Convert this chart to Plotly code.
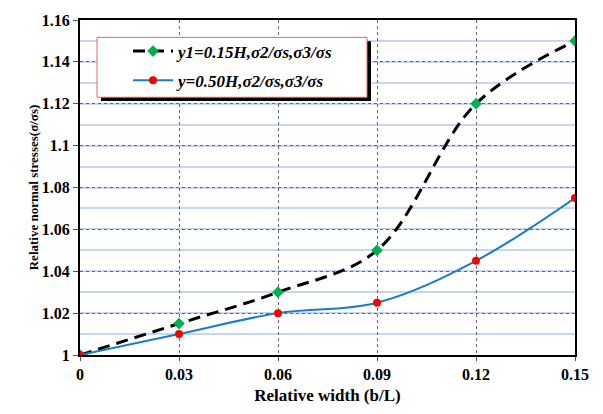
import plotly.graph_objects as go

# Relative width b/L and relative normal stresses
width_ratio = [0, 0.03, 0.06, 0.09, 0.12, 0.15]
stress_y1_015H = [1.0, 1.015, 1.03, 1.05, 1.12, 1.15]
stress_y_050H = [1.0, 1.01, 1.02, 1.025, 1.045, 1.075]

x_tickvals = [0, 0.03, 0.06, 0.09, 0.12, 0.15]
x_ticktext = ["0", "0.03", "0.06", "0.09", "0.12", "0.15"]
y_tickvals = [1.0, 1.02, 1.04, 1.06, 1.08, 1.10, 1.12, 1.14, 1.16]
y_ticktext = ["1", "1.02", "1.04", "1.06", "1.08", "1.1", "1.12", "1.14", "1.16"]

name_1 = "y1=0.15H,σ2/σs,σ3/σs"
name_2 = "y=0.50H,σ2/σs,σ3/σs"

serif = "Liberation Serif, Times New Roman, serif"

fig = go.Figure()

fig.add_trace(go.Scatter(
    x=width_ratio, y=stress_y1_015H, name=name_1, mode="lines+markers",
    line=dict(color="black", width=3, dash="12px,7px", shape="spline", smoothing=1.0),
    marker=dict(symbol="diamond", size=9, color="#00b050"),
    legendgroup="a",
))
fig.add_trace(go.Scatter(
    x=width_ratio, y=stress_y_050H, name=name_2, mode="lines+markers",
    line=dict(color="#1a7acb", width=2, shape="spline", smoothing=1.0),
    marker=dict(symbol="circle", size=8, color="#ff0000"),
    legendgroup="b",
))

W, H = 603, 414
ml, mr, mt, mb = 80, 28, 15, 52
pw, ph = W - ml - mr, H - mt - mb


def px_x(p):
    return (p - ml) / pw


def px_y(p):
    return (H - mb - p) / ph


# legend frame with drop shadow
box_l, box_r, box_t, box_b = 97, 367, 33, 95
shapes = [
    dict(type="rect", xref="paper", yref="paper",
         x0=px_x(box_l + 4), x1=px_x(box_r + 4), y0=px_y(box_b + 4), y1=px_y(box_t + 4),
         fillcolor="black", line=dict(width=0), layer="above"),
    dict(type="rect", xref="paper", yref="paper",
         x0=px_x(box_l), x1=px_x(box_r), y0=px_y(box_b), y1=px_y(box_t),
         fillcolor="white", line=dict(color="#f26060", width=1), layer="above"),
]

fig.update_layout(
    width=W, height=H,
    margin=dict(l=ml, r=mr, t=mt, b=mb),
    paper_bgcolor="white", plot_bgcolor="white",
    shapes=shapes,
    showlegend=True,
    legend=dict(
        x=px_x(128), y=px_y(29), xanchor="left", yanchor="top",
        bgcolor="rgba(0,0,0,0)", borderwidth=0,
        font=dict(family=serif, size=17, color="black", weight="bold", style="italic"),
        itemwidth=40, tracegroupgap=4, traceorder="grouped",
    ),
    xaxis=dict(
        range=[0, 0.15], tickvals=x_tickvals, ticktext=x_ticktext,
        tickfont=dict(family=serif, size=16, color="black", weight="bold"),
        showgrid=True, gridcolor="#666666", griddash="dot", gridwidth=1,
        showline=True, linecolor="black", linewidth=2, mirror=True,
        ticks="outside", ticklen=4, tickcolor="#555555",
        zeroline=False,
        title=dict(text="Relative width (b/L)", standoff=7,
                   font=dict(family=serif, size=17, color="black", weight="bold")),
    ),
    yaxis=dict(
        range=[1.0, 1.16], tickvals=y_tickvals, ticktext=y_ticktext,
        tickfont=dict(family=serif, size=16, color="black", weight="bold"),
        showgrid=True, gridcolor="#666666", griddash="dot", gridwidth=1,
        minor=dict(dtick=0.01, tick0=1.0, showgrid=True, gridcolor="#c8d7f0",
                   gridwidth=1.5, griddash="solid"),
        showline=True, linecolor="black", linewidth=2, mirror=True,
        ticks="outside", ticklen=5, tickcolor="#555555",
        zeroline=False,
        title=dict(text="Relative normal stresses(σ/σs)", standoff=0,
                   font=dict(family=serif, size=13, color="black", weight="bold")),
    ),
)

fig.write_html("out.html")
